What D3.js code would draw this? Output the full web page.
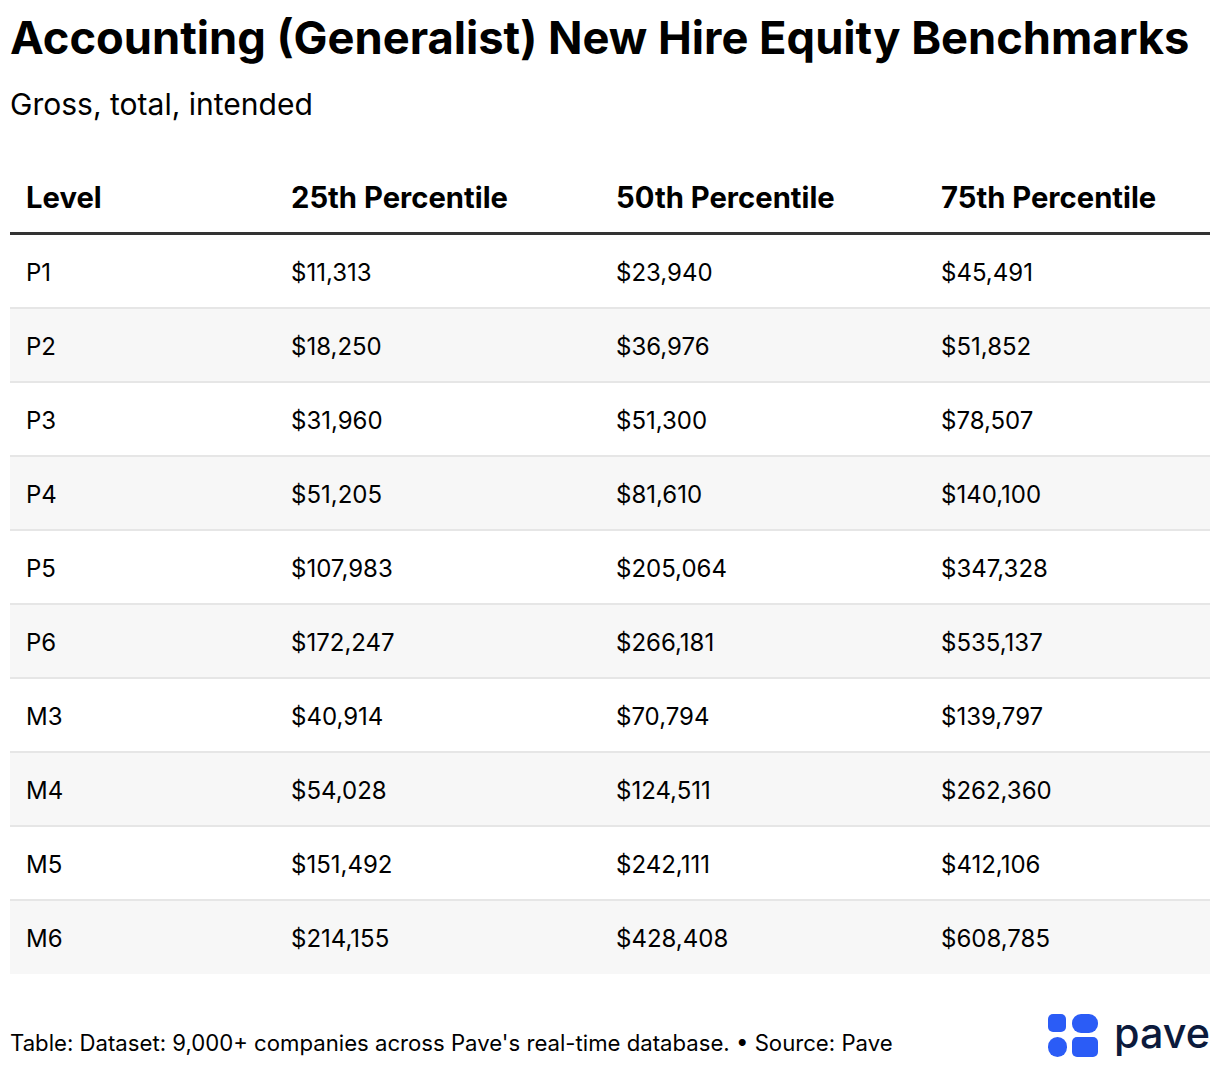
<!DOCTYPE html>
<html>
<head>
<meta charset="utf-8">
<script src="https://cdn.jsdelivr.net/npm/d3@7"></script>
<style>
  html, body { margin: 0; padding: 0; background: #fff; }
  svg text { font-family: Inter, "Noto Sans", sans-serif; fill: #000; }
</style>
</head>
<body>
<div id="chart"></div>
<script>
// table data
var levels = ["P1", "P2", "P3", "P4", "P5", "P6", "M3", "M4", "M5", "M6"];
var p25 = [11313, 18250, 31960, 51205, 107983, 172247, 40914, 54028, 151492, 214155];
var p50 = [23940, 36976, 51300, 81610, 205064, 266181, 70794, 124511, 242111, 428408];
var p75 = [45491, 51852, 78507, 140100, 347328, 535137, 139797, 262360, 412106, 608785];
var headers = ["Level", "25th Percentile", "50th Percentile", "75th Percentile"];

var title = "Accounting (Generalist) New Hire Equity Benchmarks";
var subtitle = "Gross, total, intended";
var footer = "Table: Dataset: 9,000+ companies across Pave's real-time database. \u2022 Source: Pave";

var width = 1220, height = 1068;
var left = 10, right = 1210;
var tableTop = 235, rowH = 74;
var fmt = d3.format("$,");

var svg = d3.select("#chart").append("svg")
    .attr("width", width)
    .attr("height", height);

// set a text's font size so it spans the given width
function fit(sel, base, w) {
    var tw = sel.node().getComputedTextLength();
    sel.style("font-size", (base * w / tw) + "px");
}

var t = svg.append("text")
    .attr("x", left).attr("y", 54)
    .style("font-size", "46px").style("font-weight", 700)
    .text(title);
fit(t, 46, 1180);

var st = svg.append("text")
    .attr("x", left).attr("y", 115)
    .style("font-size", "28px")
    .text(subtitle);
fit(st, 28, 303);

// columns
var colStart = [10, 275, 600, 925];
var pad = 16;

// rows
var y = d3.scaleBand()
    .domain(levels)
    .range([tableTop, tableTop + rowH * levels.length])
    .padding(0);

var rows = levels.map(function(l, i) {
    return [l, fmt(p25[i]), fmt(p50[i]), fmt(p75[i])];
});

var row = svg.selectAll("g.row")
    .data(rows)
  .enter().append("g")
    .attr("class", "row")
    .attr("transform", function(d) { return "translate(0," + y(d[0]) + ")"; });

row.append("rect")
    .attr("x", left)
    .attr("width", right - left)
    .attr("height", y.bandwidth() - 1)
    .attr("fill", function(d, i) { return i % 2 ? "#f7f7f7" : "#fff"; });

row.filter(function(d, i) { return i > 0; })
  .append("line")
    .attr("x1", left).attr("x2", right)
    .attr("y1", -1).attr("y2", -1)
    .attr("stroke", "#e6e6e6")
    .attr("stroke-width", 2);

row.selectAll("text")
    .data(function(d) { return d; })
  .enter().append("text")
    .attr("x", function(d, j) { return colStart[j] + pad; })
    .attr("y", y.bandwidth() / 2 + 9)
    .style("font-size", "24px")
    .text(function(d) { return d; });

// header
var head = svg.selectAll("text.head")
    .data(headers)
  .enter().append("text")
    .attr("class", "head")
    .attr("x", function(d, j) { return colStart[j] + pad; })
    .attr("y", 208)
    .style("font-size", "27px")
    .style("font-weight", 700)
    .text(function(d) { return d; });
fit(d3.select(head.nodes()[1]), 27, 217);
head.style("font-size", d3.select(head.nodes()[1]).style("font-size"));

svg.append("line")
    .attr("x1", left).attr("x2", right)
    .attr("y1", tableTop - 1.5).attr("y2", tableTop - 1.5)
    .attr("stroke", "#333")
    .attr("stroke-width", 3);

// footer
var ft = svg.append("text")
    .attr("x", left).attr("y", 1051)
    .style("font-size", "20px")
    .text(footer);
fit(ft, 20, 883);

// pave logo
var logo = svg.append("g").attr("fill", "#2b5cf6");
logo.append("rect").attr("x", 1048).attr("y", 1014).attr("width", 18).attr("height", 18).attr("rx", 5);
logo.append("rect").attr("x", 1072).attr("y", 1014).attr("width", 26).attr("height", 19).attr("rx", 9);
logo.append("rect").attr("x", 1048).attr("y", 1037).attr("width", 19).attr("height", 20).attr("rx", 9.5);
logo.append("rect").attr("x", 1072).attr("y", 1037).attr("width", 26).attr("height", 20).attr("rx", 5);

var pv = svg.append("text")
    .attr("x", 1114).attr("y", 1048)
    .style("font-size", "43px")
    .style("font-weight", 500)
    .style("fill", "#0c1a3c")
    .text("pave");
fit(pv, 43, 96);
</script>
</body>
</html>
